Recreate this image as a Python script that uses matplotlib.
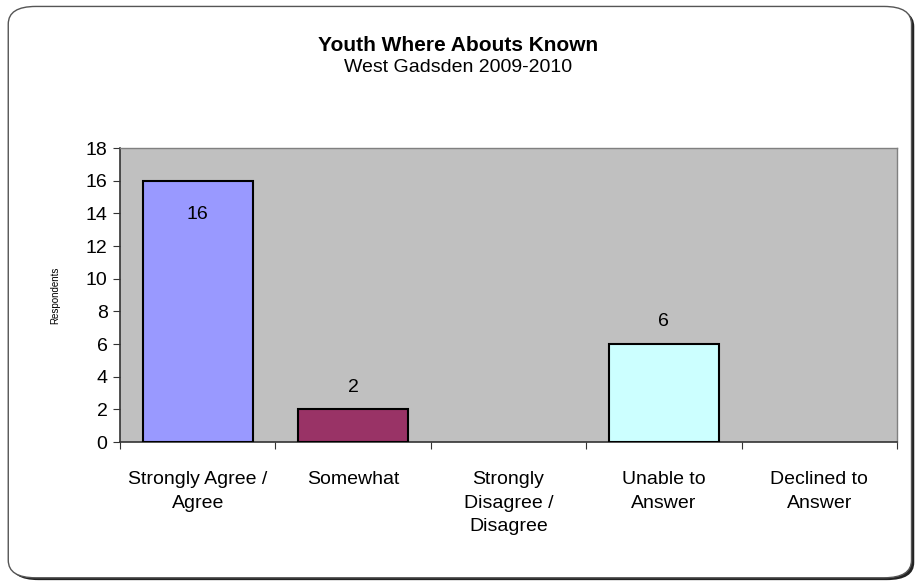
import matplotlib
matplotlib.use("Agg")
import matplotlib.pyplot as plt
from matplotlib.patches import FancyBboxPatch

plt.rcParams["font.family"] = ["Liberation Sans", "DejaVu Sans"]

categories = ["Strongly Agree /\nAgree", "Somewhat", "Strongly\nDisagree /\nDisagree",
              "Unable to\nAnswer", "Declined to\nAnswer"]
counts = [16, 2, 0, 6, 0]
bar_colors = ["#9999FF", "#993366", "#FFFFFF", "#CCFFFF", "#FFFFFF"]
y_ticks = list(range(0, 19, 2))

fig = plt.figure(figsize=(9.17, 5.86), dpi=100)
fig.patch.set_facecolor("white")

# rounded frame with shadow, kept behind the axes
shadow = FancyBboxPatch((0.012, 0.010), 0.985, 0.975, boxstyle="round,pad=0,rounding_size=0.03",
                        transform=fig.transFigure, facecolor="#222222", edgecolor="none", zorder=-2)
frame = FancyBboxPatch((0.009, 0.014), 0.985, 0.975, boxstyle="round,pad=0,rounding_size=0.03",
                       transform=fig.transFigure, facecolor="white", edgecolor="#555555",
                       linewidth=1.0, zorder=-1)
fig.patches.extend([shadow, frame])

ax = fig.add_axes([0.1309, 0.2457, 0.8473, 0.5017])
ax.set_zorder(1)
ax.set_facecolor("#C0C0C0")

x = list(range(len(categories)))
for i, (v, c) in enumerate(zip(counts, bar_colors)):
    if v > 0:
        ax.bar(i, v, width=0.71, color=c, edgecolor="black", linewidth=1.5, zorder=3)
        if v == max(counts):
            ax.annotate(str(v), (i, v), xytext=(0, -24), textcoords="offset points",
                        ha="center", va="center", fontsize=14)
        else:
            ax.annotate(str(v), (i, v), xytext=(0, 16), textcoords="offset points",
                        ha="center", va="center", fontsize=14)

ax.set_xlim(-0.5, len(categories) - 0.5)
ax.set_ylim(0, 18)
ax.set_yticks(y_ticks)
ax.set_yticklabels([str(t) for t in y_ticks], fontsize=14)
ax.set_xticks([i + 0.5 for i in range(-1, len(categories))])
ax.set_xticklabels([])
ax.set_xticks(x, minor=True)
ax.set_xticklabels(categories, minor=True, fontsize=14, va="top", linespacing=1.5)
ax.tick_params(axis="x", which="minor", length=0, pad=21)
ax.tick_params(axis="x", which="major", length=5, direction="out", color="#333333")
ax.tick_params(axis="y", length=5, direction="out", color="#333333", pad=4)

for side in ["top", "right"]:
    ax.spines[side].set_color("#808080")
    ax.spines[side].set_linewidth(1.0)
for side in ["left", "bottom"]:
    ax.spines[side].set_color("#333333")
    ax.spines[side].set_linewidth(1.2)

ax.set_ylabel("Respondents", fontsize=7, labelpad=18)

fig.text(0.5, 0.922, "Youth Where Abouts Known", ha="center", va="center",
         fontsize=15, fontweight="bold")
fig.text(0.5, 0.885, "West Gadsden 2009-2010", ha="center", va="center", fontsize=14)

fig.savefig("out.png", dpi=100)
